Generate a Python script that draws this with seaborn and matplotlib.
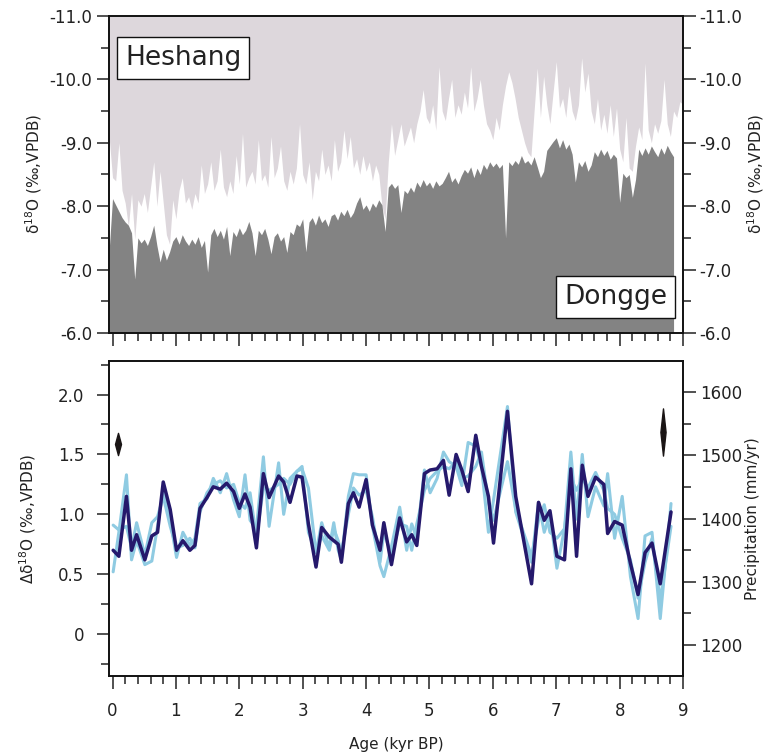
import seaborn as sns
import matplotlib.pyplot as plt
from matplotlib.path import Path
from matplotlib.ticker import MultipleLocator

# ---- painel superior: d18O das cavernas (passo 0.05 kyr)
idade = [
    -0.05, 0.00, 0.05, 0.10, 0.15, 0.20, 0.25, 0.30, 0.35, 0.40, 0.45, 0.50, 0.55, 0.60, 0.65, 0.70, 0.75, 0.80, 0.85, 0.90, 0.95,
    1.00, 1.05, 1.10, 1.15, 1.20, 1.25, 1.30, 1.35, 1.40, 1.45, 1.50, 1.55, 1.60, 1.65, 1.70, 1.75, 1.80, 1.85, 1.90, 1.95,
    2.00, 2.05, 2.10, 2.15, 2.20, 2.25, 2.30, 2.35, 2.40, 2.45, 2.50, 2.55, 2.60, 2.65, 2.70, 2.75, 2.80, 2.85, 2.90, 2.95,
    3.00, 3.05, 3.10, 3.15, 3.20, 3.25, 3.30, 3.35, 3.40, 3.45, 3.50, 3.55, 3.60, 3.65, 3.70, 3.75, 3.80, 3.85, 3.90, 3.95,
    4.00, 4.05, 4.10, 4.15, 4.20, 4.25, 4.30, 4.35, 4.40, 4.45, 4.50, 4.55, 4.60, 4.65, 4.70, 4.75, 4.80, 4.85, 4.90, 4.95,
    5.00, 5.05, 5.10, 5.15, 5.20, 5.25, 5.30, 5.35, 5.40, 5.45, 5.50, 5.55, 5.60, 5.65, 5.70, 5.75, 5.80, 5.85, 5.90, 5.95,
    6.00, 6.05, 6.10, 6.15, 6.20, 6.25, 6.30, 6.35, 6.40, 6.45, 6.50, 6.55, 6.60, 6.65, 6.70, 6.75, 6.80, 6.85, 6.90, 6.95,
    7.00, 7.05, 7.10, 7.15, 7.20, 7.25, 7.30, 7.35, 7.40, 7.45, 7.50, 7.55, 7.60, 7.65, 7.70, 7.75, 7.80, 7.85, 7.90, 7.95,
    8.00, 8.05, 8.10, 8.15, 8.20, 8.25, 8.30, 8.35, 8.40, 8.45, 8.50, 8.55, 8.60, 8.65, 8.70, 8.75, 8.80, 8.85, 8.90, 8.95,
    9.00,
]

heshang = [
    -9.05, -8.45, -8.40, -9.00, -8.25, -8.05, -7.68, -8.20, -7.48, -8.10, -8.00, -8.20, -7.90, -8.30, -8.70, -8.00, -8.55, -8.05, -7.55, -7.40, -8.10,
    -7.80, -8.25, -8.45, -8.05, -8.15, -7.95, -8.20, -8.05, -8.65, -8.20, -8.35, -8.70, -8.25, -8.40, -8.90, -8.30, -8.15, -8.40, -8.20, -8.80,
    -8.35, -9.15, -8.30, -8.45, -8.55, -8.35, -9.05, -8.40, -8.50, -8.30, -9.10, -8.45, -8.60, -8.95, -8.40, -8.25, -8.55, -8.35, -8.60, -9.30,
    -8.50, -8.35, -8.70, -8.10, -8.55, -8.40, -8.90, -8.50, -8.65, -8.40, -9.05, -8.55, -8.70, -9.20, -8.75, -9.10, -8.60, -8.75, -8.50, -8.80,
    -8.55, -8.70, -8.40, -8.65, -8.50, -8.00, -7.80, -8.70, -9.30, -8.80, -9.05, -9.30, -8.95, -9.10, -9.25, -9.00, -9.30, -9.50, -9.84, -9.40,
    -9.30, -9.60, -9.20, -10.20, -9.50, -9.35, -9.70, -10.00, -9.40, -9.60, -9.45, -9.80, -9.55, -10.20, -9.50, -9.70, -10.00, -9.60, -9.30, -9.20,
    -9.05, -9.40, -9.20, -9.60, -9.90, -10.12, -9.95, -9.70, -9.40, -9.20, -9.00, -8.85, -8.78, -9.50, -10.18, -9.40, -10.05, -9.60, -9.30, -9.80,
    -10.28, -9.55, -9.70, -9.40, -9.90, -9.50, -9.35, -9.60, -10.34, -9.80, -10.10, -9.50, -9.30, -9.70, -9.20, -9.45, -9.15, -9.60, -9.10, -9.55,
    -8.90, -8.70, -9.40, -8.60, -8.55, -8.95, -9.25, -9.05, -10.26, -9.20, -9.00, -9.30, -9.15, -9.35, -10.00, -9.30, -9.10, -9.50, -9.40, -9.65,
    -9.60,
]

dongge = [
    -7.35, -8.12, -8.02, -7.92, -7.82, -7.75, -7.70, -7.58, -6.85, -7.50, -7.42, -7.48, -7.38, -7.52, -7.70, -7.38, -7.12, -7.32, -7.15, -7.28, -7.45,
    -7.52, -7.40, -7.55, -7.45, -7.38, -7.48, -7.40, -7.52, -7.35, -7.46, -6.96, -7.55, -7.65, -7.52, -7.62, -7.48, -7.68, -7.22, -7.60, -7.52,
    -7.66, -7.55, -7.62, -7.76, -7.58, -7.22, -7.62, -7.55, -7.65, -7.48, -7.25, -7.52, -7.58, -7.45, -7.52, -7.27, -7.60, -7.55, -7.72, -7.68,
    -7.80, -7.28, -7.75, -7.82, -7.70, -7.86, -7.74, -7.80, -7.68, -7.85, -7.88, -7.78, -7.92, -7.85, -7.95, -7.82, -7.90, -8.05, -8.15, -7.95,
    -8.02, -7.92, -8.05, -7.98, -8.10, -8.02, -7.60, -8.30, -8.36, -8.28, -8.34, -7.90, -8.25, -8.20, -8.30, -8.22, -8.38, -8.30, -8.42, -8.32,
    -8.38, -8.28, -8.40, -8.32, -8.36, -8.45, -8.55, -8.38, -8.45, -8.35, -8.48, -8.58, -8.52, -8.62, -8.45, -8.60, -8.50, -8.66, -8.58, -8.70,
    -8.62, -8.68, -8.60, -8.66, -7.50, -8.70, -8.64, -8.72, -8.66, -8.80, -8.68, -8.72, -8.65, -8.78, -8.62, -8.45, -8.55, -8.88, -8.95, -9.02,
    -9.08, -8.92, -9.05, -8.90, -8.98, -8.82, -8.38, -8.70, -8.62, -8.72, -8.55, -8.65, -8.86, -8.78, -8.90, -8.80, -8.88, -8.74, -8.82, -8.76,
    -8.06, -8.52, -8.45, -8.50, -8.14, -8.42, -8.90, -8.80, -8.92, -8.82, -8.95, -8.86, -8.78, -8.92, -8.82, -8.96, -8.86, -8.78,
]

# ---- painel inferior: diferenca d18O e precipitacao
idade_serie = [
    0.01, 0.10, 0.22, 0.30, 0.38, 0.51, 0.62, 0.71, 0.80, 0.91,
    1.01, 1.11, 1.22, 1.30, 1.38, 1.49, 1.59, 1.70, 1.80, 1.91,
    2.00, 2.09, 2.17, 2.27, 2.38, 2.47, 2.62, 2.70, 2.80, 2.91,
    2.99, 3.09, 3.21, 3.30, 3.42, 3.49, 3.56, 3.61, 3.72, 3.80, 3.89,
    4.00, 4.10, 4.22, 4.28, 4.40, 4.53, 4.64, 4.72, 4.80, 4.92,
    5.01, 5.12, 5.22, 5.31, 5.42, 5.51, 5.61, 5.73, 5.82, 5.93,
    6.01, 6.23, 6.36, 6.61, 6.72, 6.81, 6.90,
    7.01, 7.13, 7.23, 7.32, 7.41, 7.50, 7.62, 7.75, 7.81, 7.92,
    8.04, 8.17, 8.29, 8.40, 8.51, 8.64, 8.81,
]

delta_media = [
    0.70, 0.65, 1.15, 0.70, 0.83, 0.62, 0.82, 0.85, 1.27, 1.04,
    0.70, 0.78, 0.70, 0.74, 1.05, 1.14, 1.23, 1.21, 1.26, 1.19,
    1.05, 1.17, 1.06, 0.72, 1.34, 1.14, 1.32, 1.27, 1.10, 1.32,
    1.31, 0.92, 0.56, 0.89, 0.81, 0.78, 0.75, 0.60, 1.09, 1.18, 1.06,
    1.29, 0.91, 0.70, 0.93, 0.58, 0.97, 0.77, 0.83, 0.74, 1.34,
    1.37, 1.38, 1.45, 1.16, 1.50, 1.37, 1.19, 1.66, 1.40, 1.15,
    0.76, 1.86, 1.15, 0.42, 1.10, 0.95, 1.03,
    0.65, 0.62, 1.38, 0.65, 1.41, 1.15, 1.31, 1.25, 0.84, 0.94,
    0.91, 0.59, 0.33, 0.68, 0.76, 0.42, 1.02,
]

delta_a = [
    0.52, 0.85, 1.33, 0.62, 0.78, 0.58, 0.61, 0.90, 1.20, 0.95,
    0.64, 0.85, 0.74, 0.80, 1.09, 1.13, 1.30, 1.18, 1.34, 1.12,
    0.98, 1.33, 0.95, 0.88, 1.48, 0.90, 1.43, 1.00, 1.30, 1.36,
    1.40, 0.85, 0.68, 0.93, 0.72, 0.93, 0.70, 0.62, 1.15, 1.34, 1.33,
    1.33, 0.90, 0.57, 0.48, 0.73, 1.06, 0.70, 0.92, 0.80, 1.37,
    1.18, 1.30, 1.52, 1.44, 1.40, 1.24, 1.60, 1.57, 1.40, 0.85,
    1.12, 1.90, 1.02, 0.60, 1.10, 0.85, 1.00,
    0.55, 0.88, 1.52, 0.96, 1.50, 0.98, 1.23, 1.07, 1.34, 0.80,
    1.15, 0.48, 0.13, 0.82, 0.85, 0.13, 1.09,
]

delta_b = [
    0.91, 0.87, 0.90, 0.72, 0.93, 0.66, 0.93, 0.98, 1.15, 0.90,
    0.72, 0.74, 0.80, 0.72, 1.02, 1.18, 1.25, 1.28, 1.22, 1.25,
    1.10, 1.05, 1.18, 0.80, 1.22, 1.20, 1.25, 1.30, 1.25, 1.36,
    1.38, 1.22, 0.68, 0.82, 0.70, 0.88, 0.78, 0.68, 1.00, 1.22, 1.16,
    1.20, 0.98, 0.60, 0.85, 0.66, 0.92, 0.90, 0.70, 0.92, 1.20,
    1.30, 1.36, 1.40, 1.38, 1.44, 1.30, 1.32, 1.40, 1.52, 1.10,
    0.95, 1.44, 1.04, 0.65, 0.95, 1.08, 0.85,
    0.80, 0.88, 1.30, 1.20, 1.30, 1.22, 1.35, 1.20, 1.05, 1.00,
    0.80, 0.62, 0.30, 0.60, 0.80, 0.28, 0.90,
]

# barras de erro (losangos)
erro_esq_idade = [0.09]
erro_esq_valor = [1.59]
erro_dir_idade = [8.68]
erro_dir_precip = [1537]

ticks_top = [-11, -10, -9, -8, -7, -6]
ticks_delta = [0, 0.5, 1.0, 1.5, 2.0]
rotulos_delta = ["0", "0.5", "1.0", "1.5", "2.0"]
ticks_precip = [1200, 1300, 1400, 1500, 1600]

cor_clara = "#ddd7dc"
cor_escura = "#838383"
cor_azul = "#8fcbe2"
cor_marinho = "#25196c"
cor_texto = "#222222"

sns.set_style("ticks")
plt.rcParams['font.family'] = ['DejaVu Sans']
plt.rcParams['axes.unicode_minus'] = False
plt.rcParams['axes.linewidth'] = 1.2
plt.rcParams['axes.edgecolor'] = "#111111"

fig = plt.figure(figsize=(7.7, 7.54), dpi=100)
ax_top = fig.add_axes([0.1416, 0.5584, 0.7455, 0.4204])
ax_bot = fig.add_axes([0.1416, 0.1034, 0.7455, 0.4178])

# --- painel superior
ax_top.fill_between(idade, heshang, -11, color=cor_clara, lw=0)
ax_top.fill_between(idade[:len(dongge)], dongge, -6, color=cor_escura, lw=0)
ax_top.set_xlim(-0.055, 9.0)
ax_top.set_ylim(-6, -11)
ax_top.set_yticks(ticks_top)
ax_top.set_yticklabels([f"{t:.1f}" for t in ticks_top])
ax_top.yaxis.set_minor_locator(MultipleLocator(0.5))
ax_top.xaxis.set_major_locator(MultipleLocator(1))
ax_top.xaxis.set_minor_locator(MultipleLocator(0.2))
ax_top.tick_params(axis='x', labelbottom=False)
ax_top.tick_params(which='major', direction='out', length=9, width=1.1, labelsize=12, colors=cor_texto, pad=3)
ax_top.tick_params(which='minor', direction='out', length=6, width=1.1, colors=cor_texto)
ax_top.set_ylabel("δ$^{18}$O (‰,VPDB)", fontsize=11, color=cor_texto, labelpad=4)

ax_top_r = ax_top.twinx()
ax_top_r.set_ylim(-6, -11)
ax_top_r.set_yticks(ticks_top)
ax_top_r.set_yticklabels([f"{t:.1f}" for t in ticks_top])
ax_top_r.yaxis.set_minor_locator(MultipleLocator(0.5))
ax_top_r.tick_params(which='major', direction='out', length=9, width=1.1, labelsize=12, colors=cor_texto, pad=3)
ax_top_r.tick_params(which='minor', direction='out', length=6, width=1.1, colors=cor_texto)
ax_top_r.set_ylabel("δ$^{18}$O (‰,VPDB)", fontsize=11, color=cor_texto, labelpad=2)

caixa = dict(boxstyle="square,pad=0.3", facecolor="white", edgecolor="#111111", linewidth=1.0)
ax_top.text(0.028, 0.868, "Heshang", transform=ax_top.transAxes, fontsize=19,
            ha="left", va="center", color=cor_texto, bbox=caixa, zorder=5)
ax_top.text(0.972, 0.113, "Dongge", transform=ax_top.transAxes, fontsize=19,
            ha="right", va="center", color=cor_texto, bbox=caixa, zorder=5)

# --- painel inferior
sns.lineplot(x=idade_serie, y=delta_a, ax=ax_bot, color=cor_azul, linewidth=2.2, estimator=None, sort=False)
sns.lineplot(x=idade_serie, y=delta_b, ax=ax_bot, color=cor_azul, linewidth=2.2, estimator=None, sort=False)
sns.lineplot(x=idade_serie, y=delta_media, ax=ax_bot, color=cor_marinho, linewidth=2.5, estimator=None, sort=False)

losango_esq = Path([(0, -1), (0.27, 0), (0, 1), (-0.27, 0), (0, -1)],
                   [Path.MOVETO, Path.LINETO, Path.LINETO, Path.LINETO, Path.CLOSEPOLY])
losango_dir = Path([(0, -1), (0.11, 0), (0, 1), (-0.11, 0), (0, -1)],
                   [Path.MOVETO, Path.LINETO, Path.LINETO, Path.LINETO, Path.CLOSEPOLY])
ax_bot.plot(erro_esq_idade, erro_esq_valor, ls="none", marker=losango_esq, ms=16, color="#1a1515")

ax_bot.set_xlim(-0.055, 9.0)
ax_bot.set_ylim(-0.35, 2.28)
ax_bot.set_yticks(ticks_delta)
ax_bot.set_yticklabels(rotulos_delta)
ax_bot.yaxis.set_minor_locator(MultipleLocator(0.25))
ax_bot.xaxis.set_major_locator(MultipleLocator(1))
ax_bot.xaxis.set_minor_locator(MultipleLocator(0.2))
ax_bot.tick_params(which='major', direction='out', length=9, width=1.1, labelsize=12, colors=cor_texto)
ax_bot.tick_params(which='minor', direction='out', length=6, width=1.1, colors=cor_texto)
ax_bot.tick_params(axis='y', which='major', pad=9)
ax_bot.tick_params(axis='x', which='major', pad=10)
ax_bot.set_ylabel("Δδ$^{18}$O (‰,VPDB)", fontsize=11, color=cor_texto, labelpad=14)
ax_bot.set_xlabel("Age (kyr BP)", fontsize=11, color=cor_texto, labelpad=12)

ax_bot_r = ax_bot.twinx()
ax_bot_r.set_ylim(1151, 1649)
ax_bot_r.set_yticks(ticks_precip)
ax_bot_r.yaxis.set_minor_locator(MultipleLocator(50))
ax_bot_r.tick_params(which='major', direction='out', length=9, width=1.1, labelsize=12, colors=cor_texto, pad=3)
ax_bot_r.tick_params(which='minor', direction='out', length=6, width=1.1, colors=cor_texto)
ax_bot_r.plot(erro_dir_idade, erro_dir_precip, ls="none", marker=losango_dir, ms=34, color="#1a1515")
ax_bot_r.set_ylabel("Precipitation (mm/yr)", fontsize=11, color=cor_texto, labelpad=2)

plt.savefig("out.png", dpi=100)
